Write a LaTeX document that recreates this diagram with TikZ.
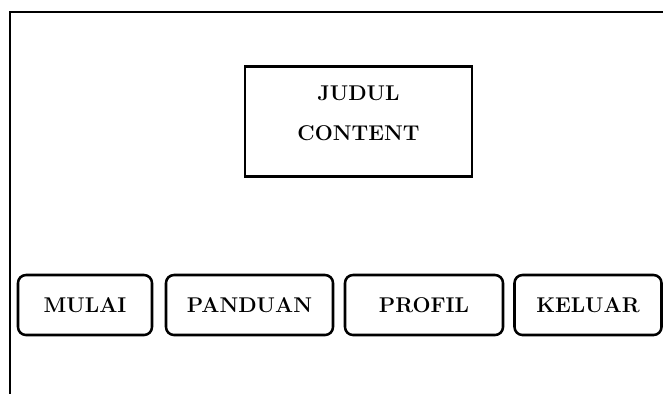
\documentclass[tikz,border=0pt]{standalone}
\begin{document}
\tikzset{every picture/.style={line width=0.55pt}}
\tikzset{
  menubtn/.style={draw, line width=1.9pt, rounded corners=6pt, minimum height=45pt, inner sep=0pt, font=\fontsize{16}{19}\selectfont\bfseries},
  judultext/.style={inner sep=0.75pt, font=\fontsize{16}{19}\selectfont\bfseries}
}
\begin{tikzpicture}[x=0.75pt,y=0.75pt,yscale=-1,xscale=1]
            \useasboundingbox (0,0) rectangle (663,394);

            %Straight Lines [id:frame]
            \draw [line width=2.2pt]  (663,12) -- (10,12) -- (10,394) ;
            %Shape: Rectangle [id:judulbox]
            \node [draw, line width=1.9pt, minimum width=170.25pt, minimum height=82.5pt, inner sep=0pt] (judulbox) at (358.5,121.5) {};
            % Text Node
            \node [judultext] (judul) at (358.5,93) {JUDUL};
            % Text Node
            \node [judultext] (content) at (358.5,133) {CONTENT};
            %Shape: Rounded Rect [id:mulai]
            \node [menubtn, minimum width=100.5pt] (mulai) at (85,305) {MULAI};
            %Shape: Rounded Rect [id:panduan]
            \node [menubtn, minimum width=125.25pt] (panduan) at (249.5,305) {PANDUAN};
            %Shape: Rounded Rect [id:profil]
            \node [menubtn, minimum width=118.5pt] (profil) at (424,305) {PROFIL};
            %Shape: Rounded Rect [id:keluar]
            \node [menubtn, minimum width=110.25pt] (keluar) at (588,305) {KELUAR};
\end{tikzpicture}
\end{document}
